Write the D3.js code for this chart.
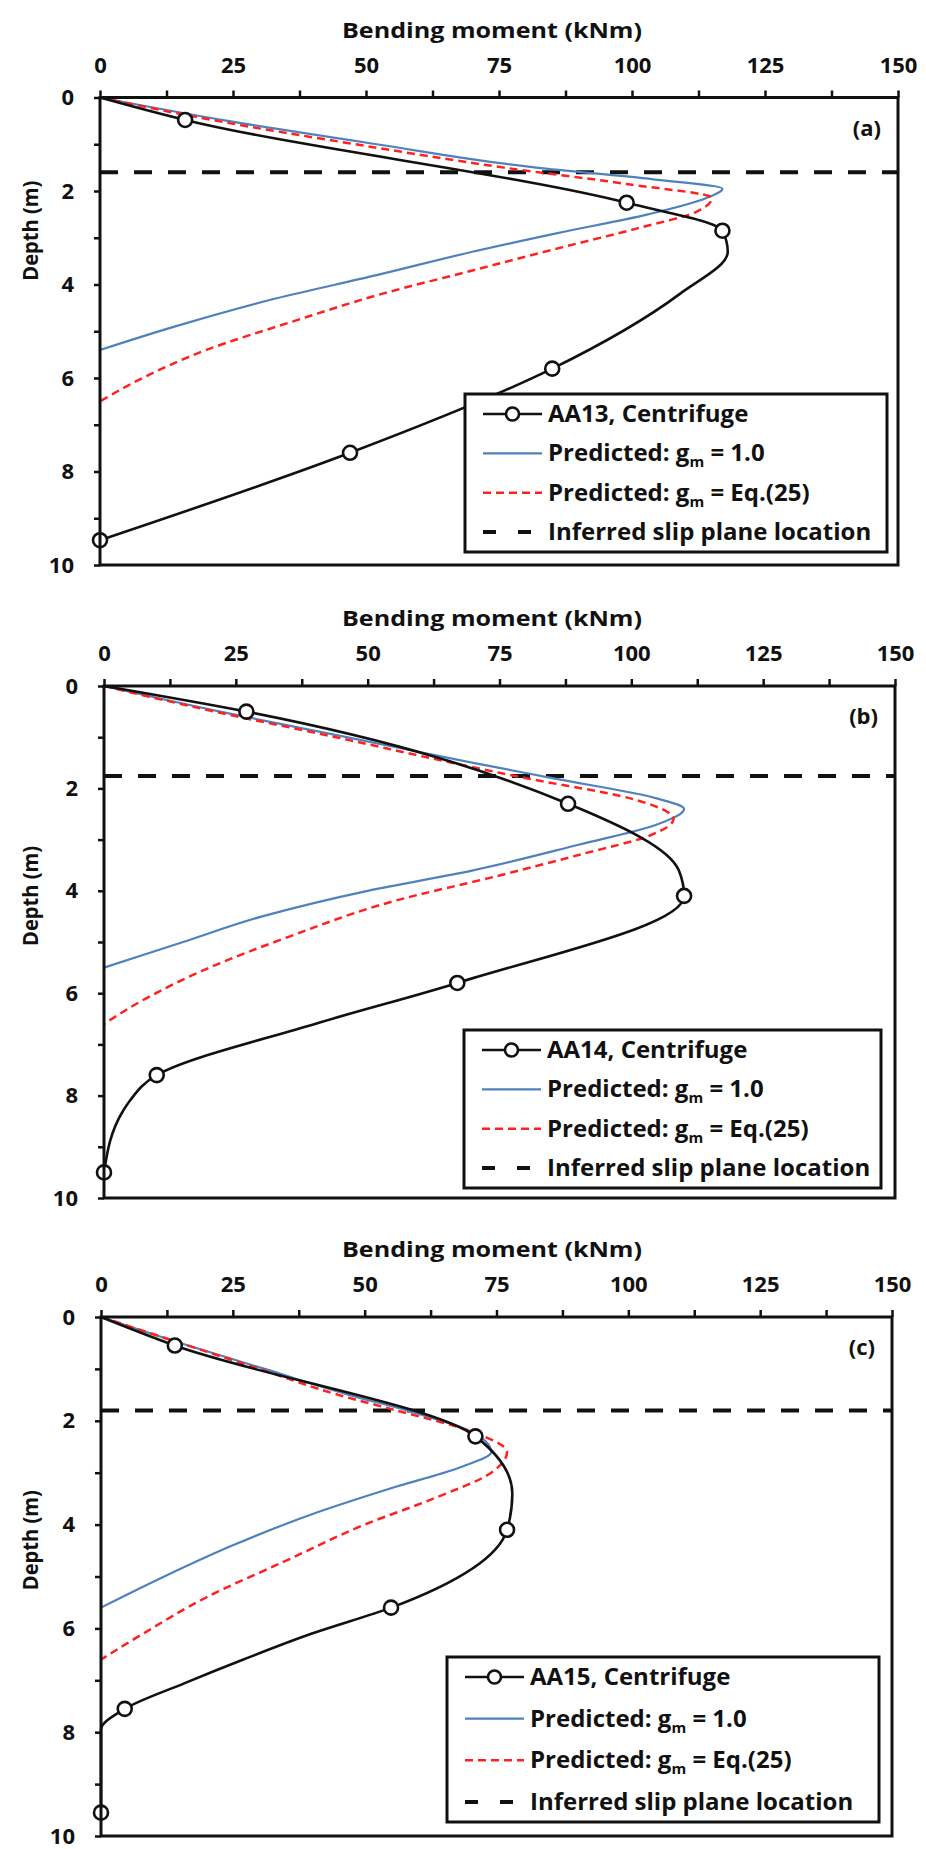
<!DOCTYPE html>
<html>
<head>
<meta charset="utf-8">
<script src="https://cdn.jsdelivr.net/npm/d3@7"></script>
<style>
  body { margin: 0; background: #fff; }
  svg text { font-family: "Open Sans", Lato, sans-serif; font-weight: bold; fill: #111; }
</style>
</head>
<body>
<script>
// axis ticks
const xTicks = [0, 25, 50, 75, 100, 125, 150];
const yTicks = [0, 2, 4, 6, 8, 10];

// [depth (m), bending moment (kNm)]
// (a) AA13
const measAA13 = [[0.48, 16], [2.25, 99], [2.85, 117], [5.8, 85], [7.6, 47], [9.47, 0]];
const lineAA13 = [[0, 0], [0.48, 16], [2.25, 99], [2.85, 117], [3.3, 118], [4.2, 109], [5.8, 85], [7.6, 47], [9.47, 0]];
const predA1 = [[0, 0], [0.5, 24], [1.0, 52], [1.5, 82], [1.75, 104], [1.95, 117], [2.15, 114], [2.5, 103], [2.9, 86], [3.3, 70], [3.8, 52], [4.3, 33], [4.9, 14], [5.4, 0]];
const predAEq = [[0, 0], [0.5, 22], [1.0, 48], [1.5, 76], [1.85, 99], [2.15, 115], [2.45, 112], [2.8, 101], [3.2, 87], [3.7, 70], [4.2, 53], [4.8, 36], [5.4, 20], [6.0, 8], [6.5, 0]];

// (b) AA14
const measAA14 = [[0.5, 27], [2.3, 88], [4.1, 110], [5.8, 67], [7.6, 10], [9.5, 0]];
const lineAA14 = [[0, 0], [0.5, 27], [2.3, 88], [3.6, 109], [4.1, 110], [5.8, 67], [6.6, 40], [7.6, 10], [8.1, 4.9], [8.3, 3.6], [9.5, 0]];
const predB1 = [[0, 0], [0.5, 22], [1.0, 46], [1.5, 70], [1.8, 85], [2.2, 105], [2.4, 110], [2.7, 105], [3.1, 90], [3.6, 70], [4.0, 50], [4.5, 30], [5.0, 15], [5.5, 0]];
const predBEq = [[0, 0], [0.5, 21], [1.0, 44], [1.5, 66], [1.8, 80], [2.2, 100], [2.6, 108], [2.9, 104], [3.3, 90], [3.7, 75], [4.2, 55], [4.9, 35], [5.5, 20], [6.1, 8], [6.6, 0]];

// (c) AA15
const measAA15 = [[0.55, 14], [2.3, 71], [4.1, 77], [5.6, 55], [7.55, 4.5], [9.55, 0]];
const lineAA15 = [[0, 0], [0.55, 14], [2.3, 71], [3.4, 78], [4.1, 77], [5.6, 55], [6.1, 40], [6.6, 27], [7.05, 16], [7.55, 4.5], [7.95, 0], [9.55, 0]];
const predC1 = [[0, 0], [0.5, 15], [1.0, 31], [1.5, 47], [1.8, 58], [2.2, 70], [2.6, 74], [2.9, 68], [3.3, 55], [3.8, 40], [4.4, 25], [5.0, 12], [5.6, 0]];
const predCEq = [[0, 0], [0.5, 15], [1.0, 30], [1.5, 45], [1.8, 56], [2.2, 70], [2.6, 77], [3.0, 74], [3.5, 63], [4.0, 50], [4.7, 35], [5.4, 20], [6.1, 8], [6.6, 0]];

const slipDepths = [1.6, 1.76, 1.8];
const testNames = ["AA13", "AA14", "AA15"];

const panels = [
  { tag: "(a)", meas: measAA13, line: lineAA13, p1: predA1, pEq: predAEq, slip: slipDepths[0], name: testNames[0],
    box: { left: 100, right: 898, top: 97.5, bottom: 565 }, legend: { x: 465, y: 394, w: 422, h: 158 }, labelAt: 2.85 },
  { tag: "(b)", meas: measAA14, line: lineAA14, p1: predB1, pEq: predBEq, slip: slipDepths[1], name: testNames[1],
    box: { left: 104, right: 895, top: 686, bottom: 1198 }, legend: { x: 464, y: 1030, w: 417, h: 158 }, labelAt: 4.1 },
  { tag: "(c)", meas: measAA15, line: lineAA15, p1: predC1, pEq: predCEq, slip: slipDepths[2], name: testNames[2],
    box: { left: 101, right: 892, top: 1317, bottom: 1836 }, legend: { x: 447, y: 1657, w: 432, h: 165 }, labelAt: 4.3 }
];

const svg = d3.select("body").append("svg")
  .attr("width", 926)
  .attr("height", 1849);

const blue = "#4f81bd";
const red = "#ff2020";

panels.forEach(p => {
  const b = p.box;
  const x = d3.scaleLinear().domain([0, 150]).range([b.left, b.right]);
  const y = d3.scaleLinear().domain([0, 10]).range([b.top, b.bottom]);
  const g = svg.append("g");

  //axes
  const xAxis = d3.axisTop(x)
    .tickValues(d3.range(0, 150.1, 12.5))
    .tickSize(7)
    .tickPadding(18)
    .tickFormat(d => (xTicks.includes(d) ? d : ""));
  g.append("g")
    .attr("transform", `translate(0, ${b.top})`)
    .call(xAxis)
    .call(a => a.select(".domain").remove())
    .call(a => a.selectAll(".tick line").attr("stroke", "#111").attr("stroke-width", 2.5))
    .call(a => a.selectAll("text").style("font-size", "22px").attr("font-family", null));

  const yAxis = d3.axisLeft(y)
    .tickValues(d3.range(0, 10.1, 1))
    .tickSize(6)
    .tickPadding(20)
    .tickFormat(d => (yTicks.includes(d) ? d : ""));
  g.append("g")
    .attr("transform", `translate(${b.left}, 0)`)
    .call(yAxis)
    .call(a => a.select(".domain").remove())
    .call(a => a.selectAll(".tick line").attr("stroke", "#111").attr("stroke-width", 2.5))
    .call(a => a.selectAll("text").style("font-size", "22px").attr("font-family", null));

  // titles, stretched like the source lettering
  g.append("text")
    .attr("x", 492 - 150)
    .attr("y", b.top - 60)
    .attr("textLength", 300)
    .attr("lengthAdjust", "spacingAndGlyphs")
    .style("font-size", "21px")
    .text("Bending moment (kNm)");

  g.append("text")
    .attr("transform", `translate(38, ${y(p.labelAt) + 50}) rotate(-90)`)
    .attr("textLength", 100)
    .attr("lengthAdjust", "spacingAndGlyphs")
    .style("font-size", "21px")
    .text("Depth (m)");

  g.append("text")
    .attr("x", b.right - 17)
    .attr("y", b.top + 38)
    .attr("text-anchor", "end")
    .style("font-size", "22px")
    .text(p.tag);

  // slip plane
  g.append("line")
    .attr("x1", b.left)
    .attr("x2", b.right)
    .attr("y1", y(p.slip))
    .attr("y2", y(p.slip))
    .attr("stroke", "#111")
    .attr("stroke-width", 4)
    .attr("stroke-dasharray", "18,16");

  const line = d3.line()
    .x(d => x(d[1]))
    .y(d => y(d[0]))
    .curve(d3.curveMonotoneY);

  g.append("path")
    .datum(p.p1)
    .attr("d", line)
    .attr("fill", "none")
    .attr("stroke", blue)
    .attr("stroke-width", 2.2);

  g.append("path")
    .datum(p.pEq)
    .attr("d", line)
    .attr("fill", "none")
    .attr("stroke", red)
    .attr("stroke-width", 2.5)
    .attr("stroke-dasharray", "8,5");

  g.append("path")
    .datum(p.line)
    .attr("d", line)
    .attr("fill", "none")
    .attr("stroke", "#111")
    .attr("stroke-width", 2.6);

  g.selectAll("circle.meas")
    .data(p.meas)
    .enter()
    .append("circle")
    .attr("class", "meas")
    .attr("cx", d => x(d[1]))
    .attr("cy", d => y(d[0]))
    .attr("r", 7)
    .attr("fill", "#fff")
    .attr("stroke", "#111")
    .attr("stroke-width", 2.6);

  // frame
  g.append("rect")
    .attr("x", b.left)
    .attr("y", b.top)
    .attr("width", b.right - b.left)
    .attr("height", b.bottom - b.top)
    .attr("fill", "none")
    .attr("stroke", "#111")
    .attr("stroke-width", 3);

  // legend
  const L = p.legend;
  const lg = g.append("g");
  lg.append("rect")
    .attr("x", L.x)
    .attr("y", L.y)
    .attr("width", L.w)
    .attr("height", L.h)
    .attr("fill", "#fff")
    .attr("stroke", "#111")
    .attr("stroke-width", 3);

  const step = (L.h - 40) / 3;
  const rowY = i => L.y + 20 + i * step;
  const sx0 = L.x + 18, sx1 = L.x + 77, tx = L.x + 83;

  lg.append("line").attr("x1", sx0).attr("x2", sx1).attr("y1", rowY(0)).attr("y2", rowY(0))
    .attr("stroke", "#111").attr("stroke-width", 2.6);
  lg.append("circle").attr("cx", (sx0 + sx1) / 2).attr("cy", rowY(0)).attr("r", 6.5)
    .attr("fill", "#fff").attr("stroke", "#111").attr("stroke-width", 2.6);
  lg.append("line").attr("x1", sx0).attr("x2", sx1).attr("y1", rowY(1)).attr("y2", rowY(1))
    .attr("stroke", blue).attr("stroke-width", 2.2);
  lg.append("line").attr("x1", sx0).attr("x2", sx1).attr("y1", rowY(2)).attr("y2", rowY(2))
    .attr("stroke", red).attr("stroke-width", 2.5).attr("stroke-dasharray", "8,5");
  lg.append("line").attr("x1", sx0).attr("x2", sx1).attr("y1", rowY(3)).attr("y2", rowY(3))
    .attr("stroke", "#111").attr("stroke-width", 4).attr("stroke-dasharray", "13,22");

  const txt = i => lg.append("text")
    .attr("x", tx)
    .attr("y", rowY(i) + 8)
    .style("font-size", "24px");

  txt(0).text(`${p.name}, Centrifuge`);
  const t1 = txt(1).text("Predicted:  g");
  t1.append("tspan").attr("dy", 6).style("font-size", "15px").text("m");
  t1.append("tspan").attr("dy", -6).text(" = 1.0");
  const t2 = txt(2).text("Predicted:  g");
  t2.append("tspan").attr("dy", 6).style("font-size", "15px").text("m");
  t2.append("tspan").attr("dy", -6).text(" = Eq.(25)");
  txt(3).text("Inferred slip plane location");
});
</script>
</body>
</html>
